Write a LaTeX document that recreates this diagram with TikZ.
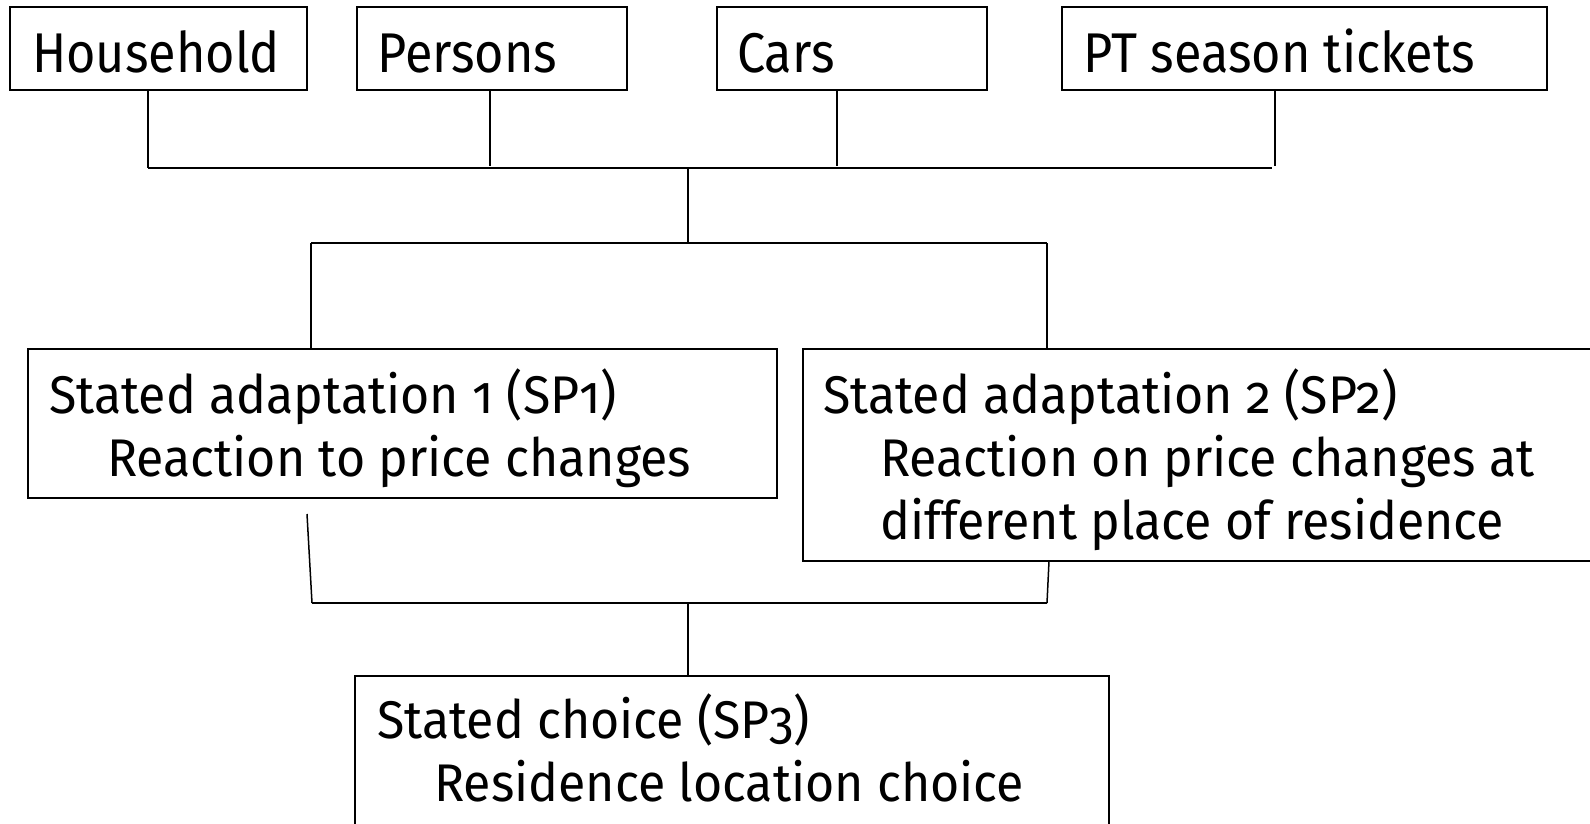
\documentclass[tikz,border=0pt]{standalone}
\usepackage{fontspec}
\setmainfont{Fira Sans}[Numbers=OldStyle, FakeStretch=0.9]
\newfontfamily\lowfont{Fira Sans}[Numbers=OldStyle, FakeStretch=0.945]
\begin{document}
\begin{tikzpicture}[x=1pt,y=-1pt,
  box/.style={draw=black, line width=2pt, inner sep=0pt},
  ttxt/.style={anchor=base west, inner sep=0pt, font=\fontsize{56}{64}\selectfont},
  btxt/.style={anchor=base west, inner sep=0pt, font=\lowfont\fontsize{53}{63}\selectfont},
  vline/.style={line width=1.5pt},
  hline/.style={line width=2.2pt}]
\useasboundingbox (0,0) rectangle (1590,823);
\clip (0,0) rectangle (1590,823);
% boxes
\draw[box] (10,7) rectangle (307,90);
\node (hh) at (158.5,48.5) [minimum width=297pt, minimum height=83pt] {};
\draw[box] (357,7) rectangle (627,90);
\node (pe) at (492,48.5) [minimum width=270pt, minimum height=83pt] {};
\draw[box] (717,7) rectangle (987,90);
\node (ca) at (852,48.5) [minimum width=270pt, minimum height=83pt] {};
\draw[box] (1062,7) rectangle (1547,90);
\node (pt) at (1304.5,48.5) [minimum width=485pt, minimum height=83pt] {};
\draw[box] (28,349) rectangle (777,498);
\node (sp1) at (402.5,423.5) [minimum width=749pt, minimum height=149pt] {};
\draw[box] (803,349) rectangle (1610,561);
\node (sp2) at (1206.5,455) [minimum width=807pt, minimum height=212pt] {};
\draw[box] (355,676) rectangle (1109,840);
\node (sp3) at (732,758) [minimum width=754pt, minimum height=164pt] {};
% texts
\node[ttxt] (thh) at (32,72) {Household};
\node[ttxt] (tpe) at (377,72) {Persons};
\node[ttxt] (tca) at (737,72) {Cars};
\node[ttxt] (tpt) at (1083,72) {PT season tickets};
\node[btxt] (t1a) at (49,413) {Stated adaptation 1 (SP1)};
\node[btxt] (t1b) at (107,476) {Reaction to price changes};
\node[btxt] (t2a) at (823,413) {Stated adaptation 2 (SP2)};
\node[btxt] (t2b) at (880,476) {Reaction on price changes at};
\node[btxt] (t2c) at (880,539) {different place of residence};
\node[btxt] (t3a) at (377,738) {Stated choice (SP3)};
\node[btxt] (t3b) at (434,801) {Residence location choice};
% junction coordinates
\coordinate (j1) at (148,168);
\coordinate (j2) at (490,166);
\coordinate (j3) at (837,166);
\coordinate (j4) at (1275,166);
\coordinate (j1e) at (1272,168);
\coordinate (m1) at (688,168);
\coordinate (m2) at (688,243);
\coordinate (s1) at (311,243);
\coordinate (s2) at (1047,243);
\coordinate (l1t) at (307,514);
\coordinate (l1) at (312,603);
\coordinate (l2t) at (1049,561);
\coordinate (l2) at (1047,603);
\coordinate (m3) at (688,603);
% connectors
\draw[vline] (hh.south -| j1) -- (j1);
\draw[vline] (pe.south -| j2) -- (j2);
\draw[vline] (ca.south -| j3) -- (j3);
\draw[vline] (pt.south -| j4) -- (j4);
\draw[hline] (j1) -- (j1e);
\draw[vline] (m1) -- (m2);
\draw[hline] (s1) -- (s2);
\draw[vline] (s1) -- (sp1.north -| s1);
\draw[vline] (s2) -- (sp2.north -| s2);
\draw[vline] (l1t) -- (l1);
\draw[vline] (l2t) -- (l2);
\draw[hline] (l1) -- (l2);
\draw[vline] (m3) -- (sp3.north -| m3);
\end{tikzpicture}
\end{document}
